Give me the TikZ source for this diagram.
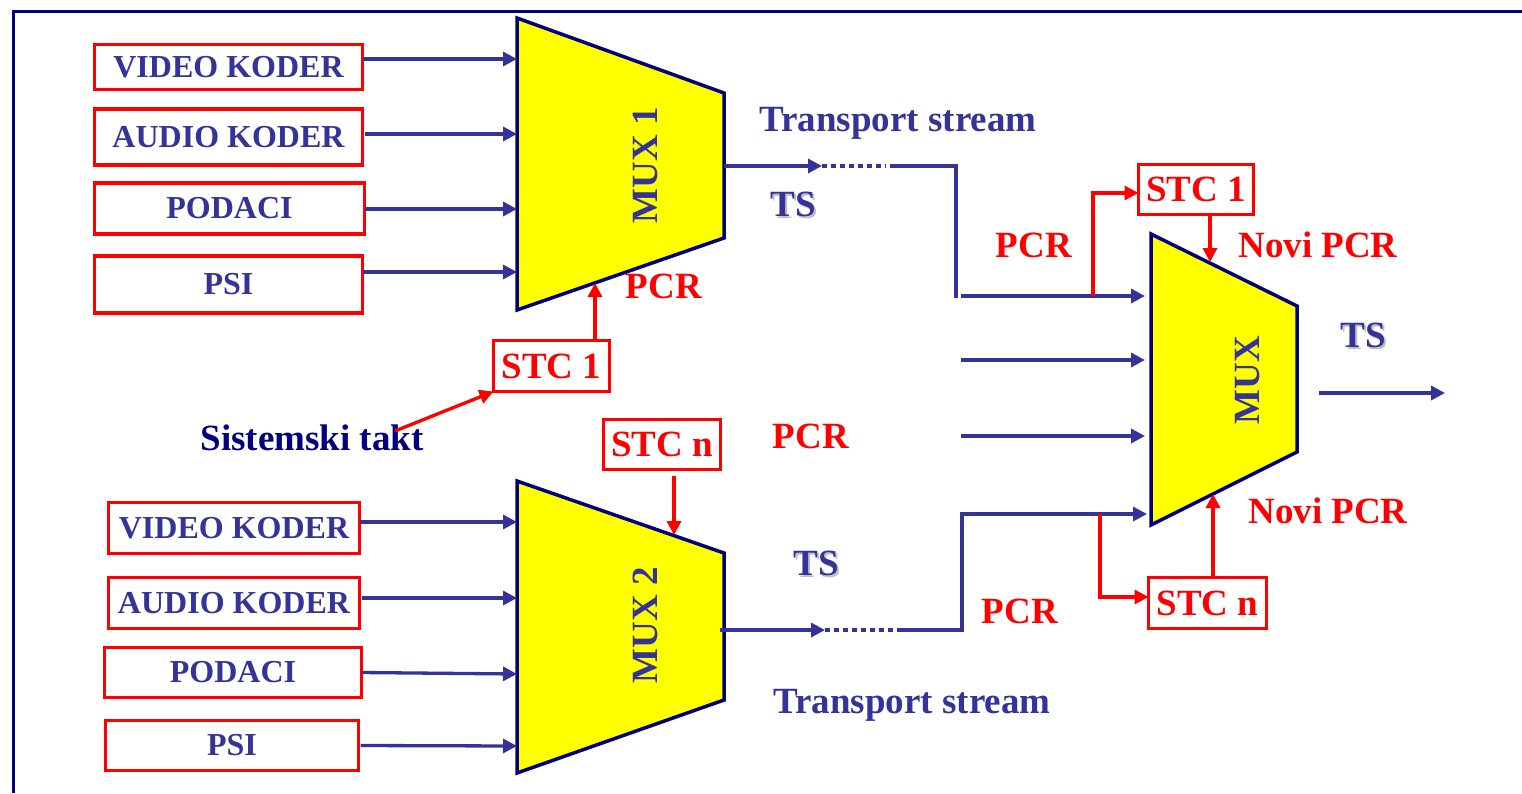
\documentclass[tikz,border=0pt]{standalone}
\usepackage{fontspec}
\setmainfont{Liberation Serif}
\usetikzlibrary{arrows.meta}
\definecolor{tblue}{HTML}{333399}
\definecolor{navyc}{HTML}{000080}
\definecolor{tred}{HTML}{FF0000}
\definecolor{tyellow}{HTML}{FFFF00}
\newcommand{\bfsz}[1]{\fontsize{#1}{#1}\selectfont\bfseries}
\begin{document}
\begin{tikzpicture}[x=1pt,y=-1pt,
  inbox/.style={draw=tred, line width=3.5pt, fill=white, text=tblue, font=\bfsz{32}, inner sep=0pt, outer sep=0pt},
  stcbox/.style={draw=tred, line width=3.5pt, fill=white, text=tred, font=\bfsz{37}, inner sep=0pt, outer sep=0pt},
  bluearrow/.style={draw=tblue, line width=3.3pt, -{Triangle[length=14pt,width=14pt]}},
  redarrow/.style={draw=tred, line width=3.3pt, -{Triangle[length=14pt,width=14pt]}},
  blueline/.style={draw=tblue, line width=3.3pt},
  dotline/.style={draw=tblue, line width=3.3pt, dash pattern=on 5pt off 4pt},
  muxshape/.style={fill=tyellow, draw=navyc, line width=3.5pt, line join=miter},
  muxlabel/.style={text=tblue, font=\bfsz{37}, inner sep=0pt, rotate=90},
  bluelabel/.style={text=tblue, font=\bfsz{37}, inner sep=0pt, anchor=base},
  shadowlabel/.style={text=black!25, font=\bfsz{37}, inner sep=0pt, anchor=base},
  redlabel/.style={text=tred, font=\bfsz{37}, inner sep=0pt, anchor=base},
  framec/.style={draw=navyc, line width=3.5pt}
]
\useasboundingbox (0,0) rectangle (1522,793);
% frame
\coordinate (frTR) at (1522,11.5);
\coordinate (frTL) at (13.5,11.5);
\coordinate (frBL) at (13.5,793);
\draw[framec] (frTR) -- (frTL) -- (frBL);

% multiplexers
\draw[muxshape] (517,18) -- (724,93) -- (724,238) -- (517,310) -- cycle;
\draw[muxshape] (517,481) -- (724,553) -- (724,700) -- (517,773) -- cycle;
\draw[muxshape] (1151,234) -- (1297,306) -- (1297,452) -- (1151,525) -- cycle;
\node[muxlabel] (mux1t) at (645,165) {MUX 1};
\node[muxlabel] (mux2t) at (645,625) {MUX 2};
\node[muxlabel] (mux3t) at (1248,380) {MUX};

% coordinates on the multiplexers
\coordinate (m1a) at (517,59);
\coordinate (m1b) at (517,134);
\coordinate (m1c) at (517,209);
\coordinate (m1d) at (517,272);
\coordinate (m1bot) at (595,283);
\coordinate (m1out) at (724,166);
\coordinate (m2a) at (517,522);
\coordinate (m2b) at (517,598);
\coordinate (m2c) at (517,674);
\coordinate (m2d) at (517,746);
\coordinate (m2top) at (674,535);
\coordinate (m2out) at (720,630);
\coordinate (m3top) at (1210,262);
\coordinate (m3bot) at (1213,494);
\coordinate (m3out) at (1319,393);
\coordinate (tsend) at (1445,393);

% top input boxes
\node[inbox, minimum width=268pt, minimum height=45pt] (v1) at (228.5,67) {VIDEO KODER};
\node[inbox, minimum width=268pt, minimum height=56pt] (a1) at (228.5,137) {AUDIO KODER};
\node[inbox, minimum width=270pt, minimum height=51pt] (p1) at (229.5,208.5) {PODACI};
\node[inbox, minimum width=268pt, minimum height=57pt] (s1) at (228.5,284.5) {PSI};
% bottom input boxes
\node[inbox, minimum width=251pt, minimum height=51pt] (v2) at (234,528) {VIDEO KODER};
\node[inbox, minimum width=251pt, minimum height=51pt] (a2) at (234,603) {AUDIO KODER};
\node[inbox, minimum width=257pt, minimum height=50pt] (p2) at (233,672.5) {PODACI};
\node[inbox, minimum width=253pt, minimum height=50pt] (s2) at (232,745.5) {PSI};

\draw[bluearrow] (v1.east |- m1a) -- (m1a);
\draw[bluearrow] ([xshift=2pt]a1.east |- m1b) -- (m1b);
\draw[bluearrow] (p1.east |- m1c) -- (m1c);
\draw[bluearrow] (s1.east |- m1d) -- (m1d);
\draw[bluearrow] (v2.east |- m2a) -- (m2a);
\draw[bluearrow] ([xshift=2pt]a2.east |- m2b) -- (m2b);
\draw[bluearrow] (p2.east) -- (m2c);
\draw[bluearrow] ([xshift=2pt]s2.east) -- (m2d);

% STC boxes
\node[stcbox, minimum width=116pt, minimum height=51pt] (stc1) at (551.5,366) {STC 1};
\node[stcbox, minimum width=117pt, minimum height=50pt] (stcn) at (662,444.5) {STC n};
\node[stcbox, minimum width=115pt, minimum height=50pt] (stc1r) at (1196,189.5) {STC 1};
\node[stcbox, minimum width=118pt, minimum height=51pt] (stcnr) at (1207.5,603) {STC n};

% labels
\node[bluelabel, text=navyc] (sys) at (312,450) {Sistemski takt};
\node[redlabel] (pcr1) at (664,298) {PCR};
\node[redlabel] (pcr2) at (811,448) {PCR};
\node[redlabel] (pcr3) at (1034,257) {PCR};
\node[redlabel] (pcr4) at (1020,623) {PCR};
\node[redlabel] (novi1) at (1318,257) {Novi PCR};
\node[redlabel] (novi2) at (1328,523) {Novi PCR};
\node[bluelabel] (tr1) at (898,131) {Transport stream};
\node[bluelabel] (tr2) at (912,713) {Transport stream};
\node[shadowlabel] (ts1s) at (795.5,218.5) {TS};
\node[bluelabel] (ts1) at (793,216) {TS};
\node[shadowlabel] (ts2s) at (818.5,577.5) {TS};
\node[bluelabel] (ts2) at (816,575) {TS};
\node[shadowlabel] (ts3s) at (1365.5,349.5) {TS};
\node[bluelabel] (ts3) at (1363,347) {TS};

% red clock connectors
\coordinate (sysarr) at (395,431);
\draw[redarrow] (sysarr) -- (stc1.south west);
\draw[redarrow] (stc1.north -| m1bot) -- (m1bot);
\draw[redarrow] ([yshift=-6pt]stcn.south -| m2top) -- (m2top);

% top transport stream path
\coordinate (d1a) at (822,166);
\coordinate (d1b) at (886,166);
\coordinate (s1a) at (890,166);
\coordinate (c1) at (956,298);
\draw[bluearrow] (m1out) -- (d1a);
\draw[dotline] (d1a) -- (d1b);
\draw[blueline] (s1a) -| (c1);
\coordinate (i1) at (961,296);
\coordinate (i2) at (961,360);
\coordinate (i3) at (961,436);
\coordinate (m3in1) at (1145,296);
\coordinate (m3in2) at (1145,360);
\coordinate (m3in3) at (1145,436);
\draw[bluearrow] (i1) -- (m3in1);
\draw[bluearrow] (i2) -- (m3in2);
\draw[bluearrow] (i3) -- (m3in3);

% bottom transport stream path
\coordinate (d2a) at (825,630);
\coordinate (d2b) at (897,630);
\coordinate (c2) at (962,514);
\coordinate (m3in4) at (1147,514);
\draw[bluearrow] (m2out) -- (d2a);
\draw[dotline] (d2a) -- (d2b);
\draw[bluearrow] (d2b) -| (c2) -- (m3in4);

% output
\draw[bluearrow] (m3out) -- (tsend);

% red branches to the new STCs
\coordinate (br1) at (1093,296);
\coordinate (br2) at (1100,514);
\draw[redarrow] (br1) |- ([yshift=-3.5pt]stc1r.west);
\draw[redarrow] (stc1r.south -| m3top) -- (m3top);
\draw[redarrow] (br2) |- ([yshift=6pt]stcnr.west);
\draw[redarrow] (stcnr.north -| m3bot) -- (m3bot);
\end{tikzpicture}
\end{document}
